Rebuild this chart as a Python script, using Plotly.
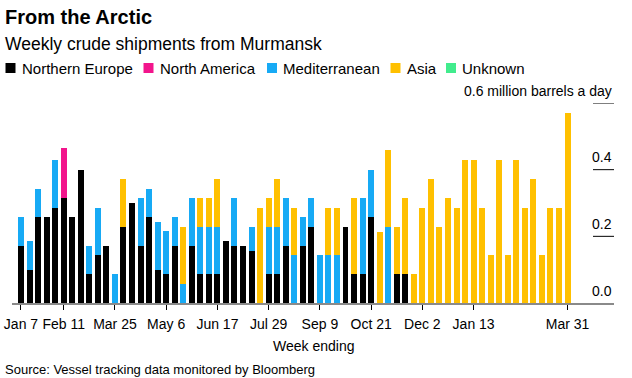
import pandas as pd
import plotly.graph_objects as go

# ---- data ----
weeks = [d.strftime("%Y-%m-%d") for d in pd.date_range("2022-01-07", "2023-03-31", freq="7D")]

northern_europe = [0.171, 0.100, 0.257, 0.257, 0.286, 0.314, 0.257, 0.400, 0.086, 0.143,
                   0.171, 0, 0.229, 0.300, 0.171, 0.257, 0.100, 0.086, 0.171, 0,
                   0.171, 0.086, 0.086, 0.086, 0.186, 0.171, 0.171, 0.157, 0, 0.086,
                   0.086, 0.171, 0, 0.171, 0.229, 0, 0, 0, 0.229, 0.086,
                   0.086, 0.257, 0, 0, 0.086, 0.086, 0, 0, 0, 0,
                   0, 0, 0, 0, 0, 0, 0, 0, 0, 0,
                   0, 0, 0, 0, 0]
north_america = [0, 0, 0, 0, 0, 0.152] + [0] * 59
mediterranean = [0.086, 0.086, 0.086, 0, 0.143, 0, 0, 0, 0.086, 0.143,
                 0, 0.086, 0, 0, 0.143, 0.086, 0.143, 0.129, 0.086, 0.057,
                 0.143, 0.143, 0.143, 0.143, 0, 0.143, 0, 0.071, 0, 0.143,
                 0.143, 0.143, 0.143, 0.086, 0.086, 0.143, 0.143, 0.143, 0, 0,
                 0.229, 0.143, 0, 0.229, 0, 0, 0, 0, 0, 0,
                 0, 0, 0, 0, 0, 0, 0, 0, 0, 0,
                 0, 0, 0, 0, 0]
asia = [0, 0, 0, 0, 0, 0, 0, 0, 0, 0,
        0, 0, 0.143, 0, 0, 0, 0, 0, 0, 0.171,
        0, 0.086, 0.086, 0.143, 0, 0, 0, 0, 0.286, 0.086,
        0.143, 0, 0.143, 0, 0, 0, 0.143, 0.143, 0, 0.229,
        0, 0, 0.214, 0.229, 0.143, 0.229, 0.086, 0.286, 0.372, 0.229,
        0.314, 0.286, 0.429, 0.429, 0.286, 0.143, 0.429, 0.143, 0.429, 0.286,
        0.372, 0.143, 0.286, 0.286, 0.571]
unknown = [0] * 65

series_names = ["Northern Europe", "North America", "Mediterranean", "Asia", "Unknown"]
series_values = [northern_europe, north_america, mediterranean, asia, unknown]
series_colors = ["#000000", "#f2158c", "#17aaf5", "#ffc000", "#41ec8d"]

tick_dates = ["2022-01-07", "2022-02-11", "2022-03-25", "2022-05-06", "2022-06-17",
              "2022-07-29", "2022-09-09", "2022-10-21", "2022-12-02", "2023-01-13",
              "2023-03-31"]
tick_labels = ["Jan 7", "Feb 11", "Mar 25", "May 6", "Jun 17", "Jul 29", "Sep 9",
               "Oct 21", "Dec 2", "Jan 13", "Mar 31"]
y_ticks = [0.0, 0.2, 0.4, 0.6]
y_tick_labels = ["0.0", "0.2", "0.4", "0.6 million barrels a day"]

# ---- layout geometry (pixels) ----
W, H = 632, 378
ML, MR, MT, MB = 12, 18, 103, 75
PW = W - ML - MR
PH = H - MT - MB
FONT = "Liberation Sans, Arial, sans-serif"


def px(x):
    return (x - ML) / PW


def py(y):
    return (H - MB - y) / PH


fig = go.Figure()
for name, vals, col in zip(series_names, series_values, series_colors):
    fig.add_trace(go.Bar(x=weeks, y=vals, name=name, marker=dict(color=col, line=dict(width=0)),
                         showlegend=False))

annotations = []
shapes = []

# Title, subtitle
annotations.append(dict(text="<b>From the Arctic</b>", x=px(3), y=py(17), xref="paper", yref="paper",
                        xanchor="left", yanchor="middle", showarrow=False,
                        font=dict(family=FONT, size=20, color="#000")))
annotations.append(dict(text="Weekly crude shipments from Murmansk", x=px(3), y=py(44), xref="paper",
                        yref="paper", xanchor="left", yanchor="middle", showarrow=False,
                        font=dict(family=FONT, size=17.5, color="#000")))

# Manual legend
legend_text_x = [20.5, 158.5, 282, 405.5, 461]
ly = 68
for name, col, tx in zip(series_names, series_colors, legend_text_x):
    shapes.append(dict(type="rect", xref="paper", yref="paper", x0=px(tx - 15), x1=px(tx - 5),
                       y0=py(ly + 5), y1=py(ly - 5), fillcolor=col, line=dict(width=0)))
    annotations.append(dict(text=name, x=px(tx - 1), y=py(ly), xref="paper", yref="paper",
                            xanchor="left", yanchor="middle", showarrow=False,
                            font=dict(family=FONT, size=15, color="#000")))

# Right-side y labels with short rules
for v, lab in zip(y_ticks, y_tick_labels):
    if v > 0:
        shapes.append(dict(type="line", xref="paper", yref="y", x0=px(593), x1=px(614), y0=v, y1=v,
                           line=dict(color="#000", width=1)))
    annotations.append(dict(text=lab, x=px(614), y=v, xref="paper", yref="y", xanchor="right",
                            yanchor="middle", yshift=12.5, showarrow=False,
                            font=dict(family=FONT, size=14, color="#000")))

# Axis title & source
annotations.append(dict(text="Week ending", x=px(313), y=py(346), xref="paper", yref="paper",
                        xanchor="center", yanchor="middle", showarrow=False,
                        font=dict(family=FONT, size=14, color="#000")))
annotations.append(dict(text="Source: Vessel tracking data monitored by Bloomberg", x=px(3), y=py(369),
                        xref="paper", yref="paper", xanchor="left", yanchor="middle", showarrow=False,
                        font=dict(family=FONT, size=13, color="#000")))

fig.update_layout(
    width=W, height=H, autosize=False,
    margin=dict(l=ML, r=MR, t=MT, b=MB, pad=0, autoexpand=False),
    barmode="stack", bargap=0.3,
    plot_bgcolor="#ffffff", paper_bgcolor="#ffffff",
    font=dict(family=FONT, size=14, color="#000"),
    annotations=annotations, shapes=shapes,
    xaxis=dict(type="category", categoryorder="array", categoryarray=weeks,
               range=[-1.05, (614 - 21) / 8.54], automargin=False,
               tickmode="array", tickvals=tick_dates, ticktext=tick_labels,
               ticks="outside", ticklen=5, tickwidth=1, tickcolor="#000",
               ticklabelstandoff=2,
               showline=True, linecolor="#8a8a8a", linewidth=2, showgrid=False,
               tickfont=dict(family=FONT, size=14, color="#000"), fixedrange=True),
    yaxis=dict(range=[0, 0.6], showticklabels=False, showgrid=False, zeroline=False,
               showline=False, ticks="", fixedrange=True, automargin=False),
)

fig.write_html("out.html", config={"displayModeBar": False, "staticPlot": True},
               post_script="document.body.style.margin='0';document.body.style.overflow='hidden';")
